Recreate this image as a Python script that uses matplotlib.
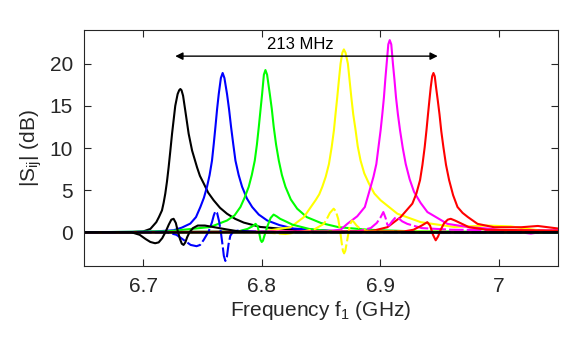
import matplotlib.pyplot as plt

plt.rcParams['font.family'] = ['Liberation Sans', 'DejaVu Sans']
plt.rcParams['mathtext.default'] = 'regular'

# main resonance traces and the wiggly secondary traces
f_black = [6.65, 6.69, 6.70, 6.706, 6.711, 6.7132, 6.7158, 6.7172, 6.7186, 6.72, 6.7214, 6.7228,
           6.7243, 6.727, 6.729, 6.7303, 6.7313, 6.7323, 6.7336, 6.7355, 6.7383, 6.7412, 6.7454,
           6.7478, 6.751, 6.7548, 6.7594, 6.7648, 6.7707, 6.7775, 6.7848, 6.7989, 6.827, 6.87,
           6.93, 7.05]
s_black = [0, 0.02, 0.1, 0.4, 1.2, 1.8, 2.6, 3.5, 4.6, 6.0, 7.7, 9.6,
           11.7, 15.0, 16.4, 16.85, 17.0, 16.85, 16.2, 14.4, 11.7, 9.7, 7.7,
           6.7, 5.8, 4.7, 3.8, 2.9, 2.2, 1.6, 1.15, 0.63, 0.3, 0.1,
           0.0, 0]
f_black2 = [6.65, 6.69, 6.697, 6.702, 6.706, 6.710, 6.713, 6.716, 6.719, 6.7215, 6.7237, 6.7256,
            6.7275, 6.729, 6.731, 6.7325, 6.734, 6.7355, 6.737, 6.739, 6.742, 6.746, 6.752, 6.76,
            6.77, 6.78, 6.80, 7.05]
s_black2 = [0, 0, -0.3, -0.8, -1.15, -1.3, -1.2, -0.7, 0.1, 0.9, 1.5, 1.6,
            1.1, 0.2, -0.8, -1.35, -1.5, -1.2, -0.6, 0.0, 0.5, 0.8, 0.8, 0.6,
            0.35, 0.12, 0, 0]

f_blue = [6.65, 6.69, 6.71, 6.7256, 6.7325, 6.7397, 6.7445, 6.7482, 6.7512, 6.7538, 6.756, 6.758,
          6.7595, 6.7609, 6.7623, 6.7637, 6.7655, 6.767, 6.7685, 6.7707, 6.7724, 6.7741, 6.776,
          6.7778, 6.7805, 6.7834, 6.7875, 6.7919, 6.7975, 6.8046, 6.815, 6.827, 6.86, 6.92, 7.05]
s_blue = [0, 0.05, 0.1, 0.24, 0.55, 1.03, 1.8, 3.0, 4.1, 5.4, 6.8, 8.5,
          10.5, 12.5, 14.6, 16.4, 18.3, 18.9, 18.3, 16.4, 14.6, 12.5, 10.4,
          8.5, 6.8, 5.4, 4.0, 3.0, 2.1, 1.4, 0.85, 0.44, 0.15, 0.05, 0]
f_blue2 = [6.65, 6.72, 6.728, 6.735, 6.740, 6.745, 6.748, 6.751, 6.7552, 6.758, 6.7595, 6.7609,
           6.7623, 6.764, 6.7655, 6.767, 6.768, 6.7693, 6.7706, 6.772, 6.7735, 6.776, 6.78, 6.79,
           6.82, 7.05]
s_blue2 = [0, 0, -0.3, -1.0, -1.5, -1.65, -1.5, -0.9, 0.1, 1.2, 2.0, 2.5,
           2.3, 1.3, 0.0, -1.6, -2.8, -3.4, -2.9, -1.4, -0.4, 0.1, 0.2, 0.1,
           0, 0]

f_green = [6.65, 6.72, 6.7566, 6.7707, 6.777, 6.782, 6.7855, 6.789, 6.7916, 6.7941, 6.7959, 6.7975,
           6.799, 6.8003, 6.8018, 6.8031, 6.8045, 6.8068, 6.8085, 6.8101, 6.8121, 6.8144, 6.817,
           6.82, 6.8245, 6.8299, 6.838, 6.85, 6.865, 6.89, 6.93, 7.05]
s_green = [0, 0.1, 0.63, 1.4, 2.0, 3.0, 4.1, 5.4, 6.8, 8.5, 10.4, 12.5,
           14.6, 16.4, 18.7, 19.25, 18.7, 16.4, 14.6, 12.5, 10.4, 8.5, 6.8,
           5.4, 3.9, 2.8, 1.8, 1.1, 0.6, 0.3, 0.1, 0]
f_green2 = [6.65, 6.78, 6.788, 6.792, 6.7948, 6.7965, 6.798, 6.799, 6.800, 6.801, 6.8025, 6.805,
            6.8075, 6.810, 6.8125, 6.8155, 6.8186, 6.826, 6.84, 6.86, 7.05]
s_green2 = [0, 0.1, 0.4, 0.7, 1.0, 0.7, -0.2, -0.9, -1.15, -1.0, -0.3, 0.8,
            1.7, 2.1, 1.9, 1.6, 1.4, 0.9, 0.4, 0.1, 0]

f_yellow = [6.65, 6.78, 6.80, 6.8243, 6.8355, 6.8454, 6.8485, 6.8511, 6.854, 6.8567, 6.859, 6.8609,
            6.8623, 6.8637, 6.8652, 6.8665, 6.868, 6.8693, 6.8707, 6.8727, 6.874, 6.8756, 6.8772,
            6.8792, 6.881, 6.8834, 6.8865, 6.8904, 6.895, 6.9003, 6.9145, 6.9342, 6.9623, 6.99,
            7.01, 7.03, 7.05]
s_yellow = [0, 0.05, 0.1, 0.6, 1.8, 3.8, 4.5, 5.4, 6.6, 8.1, 10.1, 12.1,
            14.1, 16.0, 18.2, 20.0, 21.3, 21.7, 21.3, 20.0, 18.2, 16.0, 14.0,
            12.1, 10.2, 8.5, 7.0, 5.8, 4.6, 3.8, 2.2, 1.2, 0.63, 0.8,
            0.7, 0.3, 0.0]
f_yellow2 = [6.65, 6.80, 6.82, 6.835, 6.845, 6.8524, 6.855, 6.8575, 6.8607, 6.8625, 6.8645, 6.866,
             6.8675, 6.8685, 6.8695, 6.8705, 6.8718, 6.8735, 6.8748, 6.876, 6.8778, 6.880, 6.8833,
             6.89, 7.05]
s_yellow2 = [0, 0, -0.2, 0.1, 0.4, 1.0, 1.6, 2.3, 2.8, 2.5, 1.6, 0.3,
             -1.3, -2.2, -2.5, -2.2, -1.2, 0.2, 1.0, 1.4, 1.2, 0.8, 0.4,
             0.1, 0]

f_magenta = [6.65, 6.85, 6.8665, 6.8722, 6.8806, 6.887, 6.8919, 6.8943, 6.8967, 6.8985, 6.9003, 6.9018,
             6.9031, 6.9043, 6.9054, 6.9068, 6.908, 6.9093, 6.9107, 6.912, 6.9133, 6.9149, 6.9167,
             6.919, 6.9215, 6.9248, 6.9285, 6.934, 6.9398, 6.9567, 6.975, 6.9905, 7.0271, 7.0466,
             7.05]
s_magenta = [0, 0.1, 0.3, 1.0, 1.9, 3.0, 5.4, 6.6, 8.1, 10.1, 12.1, 14.1,
             16.0, 18.2, 20.0, 22.3, 22.8, 22.3, 20.0, 18.1, 16.0, 14.0, 12.1,
             10.0, 8.1, 6.3, 4.8, 3.5, 2.4, 1.0, 0.6, 0.44, -0.15, 0.24,
             0.24]
f_magenta2 = [6.65, 6.88, 6.892, 6.897, 6.900, 6.9026, 6.9045, 6.906, 6.9075, 6.910, 6.9125, 6.914,
              6.916, 6.9185, 6.9228, 6.935, 6.96, 7.05]
s_magenta2 = [0, 0.1, 0.5, 1.1, 1.7, 2.4, 1.7, 0.9, 0.8, 1.3, 1.7, 1.8,
              1.6, 1.3, 1.0, 0.5, 0.3, 0.2]

f_red = [6.65, 6.89, 6.906, 6.9172, 6.9271, 6.9305, 6.9336, 6.9356, 6.9375, 6.939, 6.9403, 6.9415,
         6.9426, 6.9438, 6.9449, 6.946, 6.9471, 6.9485, 6.95, 6.9515, 6.9533, 6.9555, 6.9581,
         6.9615, 6.9652, 6.9695, 6.974, 6.9821, 6.996, 7.019, 7.033, 7.05]
s_red = [0, 0.05, 0.6, 1.8, 3.4, 4.6, 6.2, 8.0, 10.1, 12.1, 14.0, 15.7,
         17.2, 18.5, 18.9, 18.5, 17.2, 15.7, 14.0, 12.0, 10.1, 8.0, 6.2,
         4.4, 3.0, 2.3, 1.8, 1.0, 0.6, 0.6, 0.75, 0.45]
f_red2 = [6.65, 6.92, 6.928, 6.935, 6.9397, 6.942, 6.9445, 6.9468, 6.9488, 6.951, 6.954, 6.957,
          6.9595, 6.963, 6.969, 6.975, 6.99, 7.05]
s_red2 = [0, 0.1, 0.3, 0.8, 1.2, 0.8, -0.3, -0.95, -0.5, 0.3, 1.1, 1.5,
          1.6, 1.4, 1.0, 0.6, 0.3, 0.2]

arrow_f = [6.727, 6.9485]
arrow_db = 20.9
span_label = '213 MHz'

xticks = [6.7, 6.8, 6.9, 7.0]
xticklabels = ['6.7', '6.8', '6.9', '7']
yticks = [0, 5, 10, 15, 20]

fig = plt.figure(figsize=(5.81, 3.43), dpi=100)
ax = fig.add_axes([0.1446, 0.2245, 0.8158, 0.688])

lw = 1.5
mains = [(f_black, s_black, 'k'), (f_blue, s_blue, 'b'), (f_green, s_green, '#00ff00'),
         (f_yellow, s_yellow, '#ffff00'), (f_magenta, s_magenta, '#ff00ff'), (f_red, s_red, 'r')]
for f, s, c in mains:
    ax.plot(f, s, color=c, lw=lw, solid_joinstyle='round')

# secondary traces (the dashed ones show gaps where they are steep)
ax.plot(f_green2, s_green2, color='#00ff00', lw=lw, solid_joinstyle='round')
ax.plot(f_yellow2, s_yellow2, color='#ffff00', lw=lw, dashes=(7, 1.5))
ax.plot(f_magenta2, s_magenta2, color='#ff00ff', lw=lw, dashes=(7, 1.5))
ax.plot(f_red2, s_red2, color='r', lw=lw, solid_joinstyle='round')
ax.plot(f_blue2, s_blue2, color='b', lw=lw, dashes=(7, 1.5))
ax.plot(f_black2, s_black2, color='k', lw=lw, solid_joinstyle='round')
ax.plot([6.65, 7.05], [0, 0], color='k', lw=1.8)

ax.annotate('', xy=(arrow_f[1], arrow_db), xytext=(arrow_f[0], arrow_db),
            arrowprops=dict(arrowstyle='<|-|>', color='k', lw=1.0,
                            mutation_scale=11, shrinkA=0, shrinkB=0))
ax.text(sum(arrow_f) / 2 - 0.005, arrow_db + 0.5, span_label, ha='center', va='bottom', fontsize=12)

ax.set_xlim(6.65, 7.05)
ax.set_ylim(-4, 24)
ax.set_xticks(xticks)
ax.set_xticklabels(xticklabels)
ax.set_yticks(yticks)
ax.tick_params(direction='in', top=True, right=True, length=5, width=0.8,
               labelsize=15, colors='#262626', pad=8)
for sp in ax.spines.values():
    sp.set_color('#262626')
    sp.set_linewidth(0.8)
ax.set_xlabel('Frequency f$_1$ (GHz)', fontsize=15, color='#262626', labelpad=2)
ax.set_ylabel('|S$_{ij}$| (dB)', fontsize=15, color='#262626', labelpad=4)

fig.savefig('out.png', dpi=100)
